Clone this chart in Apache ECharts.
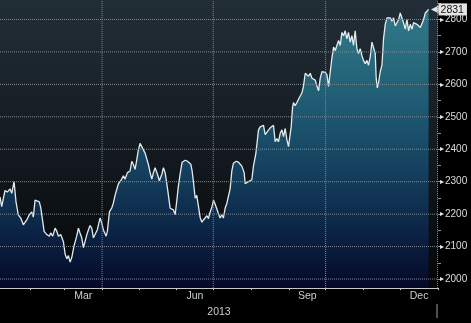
<!DOCTYPE html>
<html><head><meta charset="utf-8">
<script src="https://cdn.jsdelivr.net/npm/echarts@6/dist/echarts.min.js"></script>
<style>html,body{margin:0;padding:0;background:#000;}#c{width:471px;height:323px;}</style>
</head><body><div id="c"></div>
<script>
// x = day of year 2013 (0 = Jan 1), y = index level
const days = [6.4,7.8,10.5,12.4,14.6,16.0,17.9,19.5,21.4,23.4,25.5,26.9,28.3,30.4,32.4,33.7,35.1,36.5,38.6,39.8,41.4,42.5,44.7,46.8,47.9,49.6,51.5,52.9,54.2,56.1,58.3,59.7,61.1,62.4,63.8,65.2,67.0,69.2,70.6,71.9,73.3,74.7,76.1,77.9,80.1,81.5,82.9,84.2,86.1,88.3,89.7,91.0,93.3,94.3,96.0,97.9,99.2,100.6,102.0,103.3,105.3,107.4,108.8,110.7,112.9,114.3,115.6,117.0,118.4,119.7,121.1,122.5,123.8,125.2,126.6,127.9,129.3,130.7,132.0,133.4,135.3,136.9,138.9,140.2,141.6,143.0,144.3,145.7,147.1,148.4,149.8,151.2,152.5,153.9,155.5,158.0,159.9,161.5,162.6,163.7,164.8,166.2,167.5,168.9,170.3,171.7,173.0,174.4,175.8,177.1,178.0,179.9,181.2,182.5,183.9,185.3,186.6,188.0,189.3,190.7,192.1,193.4,194.8,196.2,197.5,198.4,199.8,201.6,203.0,204.4,206.3,207.1,208.5,209.8,211.2,212.6,213.9,215.9,218.0,219.4,220.8,222.1,223.5,224.9,226.2,227.6,229.0,230.3,231.7,233.1,234.4,235.8,237.2,238.5,239.9,241.3,242.6,244.0,244.8,245.9,246.7,248.1,249.5,250.8,252.2,253.6,254.9,256.3,257.7,259.0,260.4,261.8,263.1,264.5,265.9,267.2,268.6,270.0,271.3,272.7,274.1,275.4,276.8,278.1,279.5,280.9,282.2,283.6,285.0,286.3,287.7,289.0,290.4,291.7,293.1,294.5,295.8,297.2,298.6,299.9,301.3,302.7,304.0,305.4,306.8,308.1,309.5,310.9,312.2,313.6,314.4,315.3,316.3,317.7,319.1,320.4,321.8,323.2,324.5,325.9,327.3,328.6,330.0,331.4,332.7,334.1,335.5,336.8,338.2,339.6,340.9,342.3,343.7,345.0,346.4,347.8,349.1,350.5,351.9,353.2,354.6,356.0,357.3];
const values = [2253,2223,2273,2268,2278,2264,2300,2238,2198,2188,2167,2173,2182,2198,2207,2191,2243,2248,2238,2219,2177,2147,2137,2132,2142,2132,2157,2147,2132,2137,2115,2077,2062,2072,2052,2067,2102,2132,2157,2142,2127,2097,2102,2142,2165,2157,2127,2137,2152,2188,2173,2152,2132,2147,2207,2219,2234,2258,2253,2293,2303,2318,2308,2328,2333,2363,2353,2338,2368,2398,2418,2413,2398,2388,2383,2353,2328,2308,2328,2343,2323,2303,2323,2343,2328,2293,2258,2218,2213,2213,2198,2243,2288,2324,2360,2366,2363,2368,2354,2333,2298,2249,2258,2223,2189,2175,2182,2180,2195,2186,2201,2222,2243,2231,2228,2201,2188,2198,2188,2218,2233,2228,2278,2333,2357,2363,2363,2360,2363,2348,2328,2294,2288,2300,2303,2306,2348,2387,2459,2469,2466,2474,2445,2449,2459,2466,2469,2474,2423,2433,2423,2449,2460,2439,2464,2429,2408,2403,2469,2529,2544,2534,2544,2554,2559,2574,2595,2634,2629,2625,2634,2619,2616,2613,2595,2580,2619,2639,2644,2637,2629,2594,2595,2680,2715,2704,2720,2735,2720,2760,2750,2765,2740,2760,2730,2750,2720,2765,2710,2695,2710,2689,2674,2664,2674,2659,2685,2730,2735,2695,2619,2589,2604,2639,2659,2740,2785,2805,2800,2805,2795,2805,2780,2775,2800,2820,2815,2790,2770,2800,2765,2785,2770,2790,2790,2785,2790,2775,2775,2800,2820,2815,2831];
const monthStartDays = [31,59,90,120,151,181,212,243,273,304,334,365];
const monthLabelDays = [74.5,166,258,349.5];
const monthLabels = ['Mar','Jun','Sep','Dec'];
const quarterGridDays = [90,181,273,364.6];
const yLabelValues = [2000,2100,2200,2300,2400,2500,2600,2700,2800];
const yTickValues = [2000,2050,2100,2150,2200,2250,2300,2350,2400,2450,2500,2550,2600,2650,2700,2750,2800,2850];
const yearLabel = '2013';
const X_MIN = 6.4, X_MAX = 365, Y_MIN = 1972, Y_MAX = 2860;

const FONT = "'Liberation Sans Narrow','Arial Narrow','Liberation Sans',Arial,sans-serif";
const chart = echarts.init(document.getElementById('c'), null, {renderer:'canvas'});
const dotted = {color:'#7f8a92', type:'dotted', width:1};

// dotted grid lines as thin helper series, positioned through the axes
const gridSeries = [
  ...yLabelValues.map(v=>({type:'line', silent:true, symbol:'none', z:3, lineStyle:dotted,
      data:[[X_MIN, v],[X_MAX, v]]})),
  ...quarterGridDays.map(d=>({type:'line', silent:true, symbol:'none', z:3, lineStyle:dotted,
      data:[[d, Y_MIN],[d, Y_MAX]]}))
];

const option = {
  animation:false,
  backgroundColor:'#000',
  grid:{left:0, right:33, top:0, bottom:28, show:true, borderWidth:0,
    backgroundColor:new echarts.graphic.LinearGradient(0,0,0,1,[
      {offset:0,color:'#222e37'},{offset:0.5,color:'#141b21'},{offset:1,color:'#040506'}])},
  xAxis:{type:'value', min:X_MIN, max:X_MAX,
    name:yearLabel, nameLocation:'middle', nameGap:13,
    nameTextStyle:{color:'#c9ced2', fontSize:10.5, fontFamily:FONT},
    axisLine:{show:true, lineStyle:{color:'#c4c9cc', width:1}},
    axisTick:{show:true, customValues:monthStartDays, length:2, lineStyle:{color:'#c4c9cc'}},
    axisLabel:{customValues:monthLabelDays, color:'#c9ced2', fontSize:10.5, fontFamily:FONT, margin:3,
      formatter:(v)=>{const i=monthLabelDays.indexOf(v);return i>=0?monthLabels[i]:'';}},
    splitLine:{show:false}},
  yAxis:{type:'value', position:'right', min:Y_MIN, max:Y_MAX,
    axisLine:{show:false},
    axisTick:{show:true, customValues:yTickValues, length:3, lineStyle:{color:'#8a9196'}},
    axisLabel:{customValues:yLabelValues, color:'#dcdcdc', fontSize:10, fontFamily:FONT, margin:2,
      formatter:(v)=>'{t|\u25B8}'+v, rich:{t:{fontSize:8, color:'#e8e8e8', padding:[0,1,0,0]}}},
    splitLine:{show:false}},
  series:[{
    type:'line', z:2, data:days.map((d,i)=>[d, values[i]]), symbol:'none',
    lineStyle:{color:'#e3ebee', width:1.3},
    areaStyle:{origin:'start', color:new echarts.graphic.LinearGradient(0,0,0,1,[
      {offset:0,color:'#3a9aae'},{offset:0.3,color:'#237a96'},{offset:0.55,color:'#17567e'},
      {offset:0.8,color:'#0c2d5c'},{offset:1,color:'#050a35'}])},
    endLabel:{show:true, distance:2,
      formatter:(p)=>'{a|\u25C0}{b|'+p.value[1]+'}',
      rich:{a:{color:'#e4e4e4', fontSize:10, padding:[0,0,0,0]},
            b:{color:'#111', backgroundColor:'#e4e4e4', fontSize:10.5, fontFamily:FONT, padding:[1,3,0,2]}}}
  }, ...gridSeries]
};
chart.setOption(option);
const px = chart.convertToPixel({xAxisIndex:0}, 365);
chart.setOption({graphic:[{type:'line', shape:{x1:px-1, y1:304, x2:px-1, y2:318}, style:{stroke:'#9aa0a4', lineWidth:1}}]});
</script></body></html>
